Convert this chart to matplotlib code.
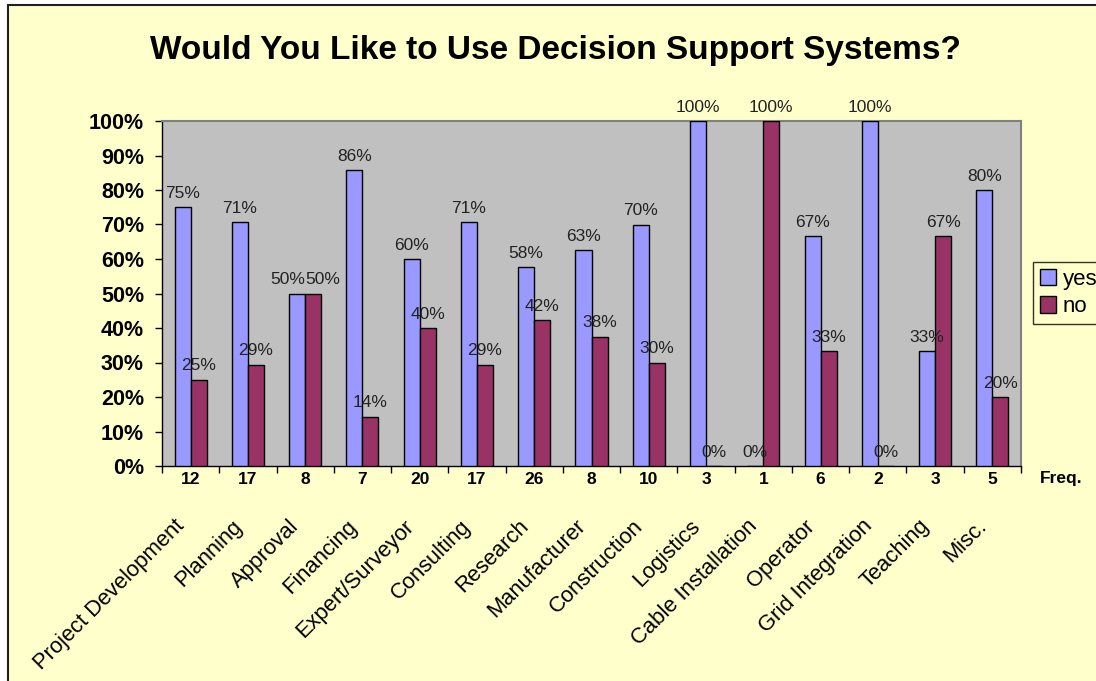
import numpy as np
import matplotlib
matplotlib.use("Agg")
import matplotlib.pyplot as plt
from matplotlib import font_manager
from matplotlib.patches import Rectangle

categories = ["Project Development", "Planning", "Approval", "Financing",
              "Expert/Surveyor", "Consulting", "Research", "Manufacturer",
              "Construction", "Logistics", "Cable Installation", "Operator",
              "Grid Integration", "Teaching", "Misc."]
freq = [12, 17, 8, 7, 20, 17, 26, 8, 10, 3, 1, 6, 2, 3, 5]
yes_pct = [75, 70.6, 50, 85.7, 60, 70.6, 57.7, 62.5, 70, 100, 0, 66.7, 100, 33.3, 80]
no_pct = [25, 29.4, 50, 14.3, 40, 29.4, 42.3, 37.5, 30, 0, 100, 33.3, 0, 66.7, 20]

YES_COLOR = "#9999FF"
NO_COLOR = "#993366"
BG = "#FFFFCC"
PLOT_BG = "#C0C0C0"

names = {f.name for f in font_manager.fontManager.ttflist}
narrow = "Liberation Sans Narrow" if "Liberation Sans Narrow" in names else "Liberation Sans"
plt.rcParams["font.family"] = ["Liberation Sans", "DejaVu Sans"]

W, H = 1096, 681
fig = plt.figure(figsize=(W / 100, H / 100), dpi=100, facecolor="white")
# outer chart frame (cut off at right and bottom like the screenshot)
fig.patches.append(Rectangle((8 / W, -0.1), 1.2, 1.1 - 5 / H, transform=fig.transFigure,
                             facecolor=BG, edgecolor="#202020", linewidth=1.5, zorder=-10))

ax = fig.add_axes([162 / W, 1 - 466 / H, (1021 - 162) / W, (466 - 121) / H])
ax.set_facecolor(PLOT_BG)

x = np.arange(len(categories))
bw = 0.28
yes = np.array(yes_pct) / 100
no = np.array(no_pct) / 100
ax.bar(x - bw / 2, yes, bw, color=YES_COLOR, edgecolor="black", linewidth=1, label="yes", zorder=3)
ax.bar(x + bw / 2, no, bw, color=NO_COLOR, edgecolor="black", linewidth=1, label="no", zorder=3)

for side_sign, xs, vals in ((-1, x - bw / 2, yes_pct), (1, x + bw / 2, no_pct)):
    for i, (xi, v) in enumerate(zip(xs, vals)):
        # pull labels of equal-height pairs apart so they do not collide
        dx = side_sign * 7 if abs(yes_pct[i] - no_pct[i]) < 5 else 0
        ax.annotate(f"{int(v + 0.5)}%", (xi, v / 100), xytext=(dx, 4.5), textcoords="offset points",
                    ha="center", va="bottom", fontsize=12.5, color="#222222", zorder=4,
                    annotation_clip=False)

ax.set_xlim(-0.5, len(categories) - 0.5)
ax.set_ylim(0, 1)
ax.set_yticks(np.arange(0, 1.01, 0.1))
ax.set_yticklabels([f"{int(round(t * 100))}%" for t in np.arange(0, 1.01, 0.1)],
                   fontsize=15.5, fontweight="bold")
ax.tick_params(axis="y", length=5, width=1, pad=8)

# frequency numbers under each group, ticks at group boundaries
ax.set_xticks(x)
ax.set_xticklabels([str(f) for f in freq], fontsize=12.5, fontweight="bold", family=narrow)
ax.tick_params(axis="x", which="major", length=0, pad=4)
ax.set_xticks(np.arange(-0.5, len(categories), 1), minor=True)
ax.tick_params(axis="x", which="minor", length=5, width=1)

for i, name in enumerate(categories):
    ax.annotate(name, (i, 0), xycoords=("data", "axes fraction"),
                xytext=(-9 * 0.72, -57 * 0.72), textcoords="offset points",
                rotation=45, rotation_mode="anchor", ha="right", va="center",
                fontsize=15.8, color="black", annotation_clip=False)

for side in ("top", "right"):
    ax.spines[side].set_color("#808080")
    ax.spines[side].set_linewidth(1.5)
for side in ("left", "bottom"):
    ax.spines[side].set_color("black")
    ax.spines[side].set_linewidth(1)

fig.text(555 / W, 1 - 50 / H, "Would You Like to Use Decision Support Systems?",
         ha="center", va="center", fontsize=24, fontweight="bold")
fig.text(1061 / W, 1 - 479 / H, "Freq.", ha="center", va="center",
         fontsize=12.5, fontweight="bold", family=narrow)

leg = fig.legend(loc="upper left", bbox_to_anchor=(1033 / W, 1 - 262 / H), fontsize=16,
                 frameon=True, fancybox=False, edgecolor="black", facecolor=BG,
                 handlelength=0.75, handleheight=0.75, handletextpad=0.3,
                 borderpad=0.3, labelspacing=0.3, borderaxespad=0)
leg.get_frame().set_linewidth(1)

fig.savefig("out.png", dpi=100, facecolor=fig.get_facecolor())
